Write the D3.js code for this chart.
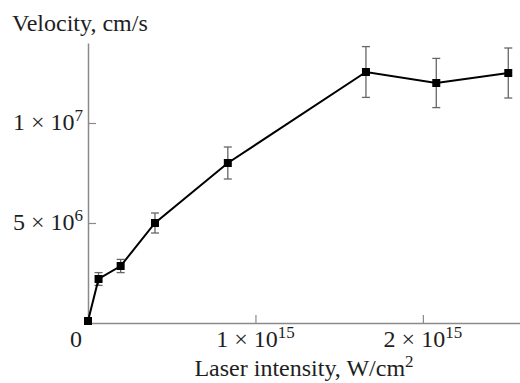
<!DOCTYPE html>
<html>
<head>
<meta charset="utf-8">
<script src="https://cdn.jsdelivr.net/npm/d3@7"></script>
<style>
  body { margin: 0; background: #fff; }
  text { font-family: "Liberation Serif", "DejaVu Serif", serif; fill: #1e1e1e; }
</style>
</head>
<body>
<div id="chart"></div>
<script>
"use strict";

// laser intensity, units of 1e15 W/cm^2
const intensity = [0.0, 0.063, 0.195, 0.40, 0.835, 1.66, 2.08, 2.51];
// velocity, units of 1e6 cm/s
const velocity = [0.1, 2.2, 2.85, 5.0, 8.0, 12.55, 12.0, 12.5];
// error half-widths, units of 1e6 cm/s
const errors = [0, 0.32, 0.33, 0.5, 0.8, 1.27, 1.23, 1.25];

const xTicks = [1, 2];
const yTicks = [5, 10];

const width = 520, height = 383;
const fontSize = 24, supSize = 17;

const svg = d3.select("#chart").append("svg")
    .attr("width", width)
    .attr("height", height);

// scales
const x = d3.scaleLinear().domain([0, 2.58]).range([88, 520]);
const y = d3.scaleLinear().domain([0, 14]).range([323, 43]);

const axisColor = "#8a8a8a";

// x axis (ticks point up, inside the plot)
const xAxis = svg.append("g")
    .attr("transform", "translate(0," + y(0) + ")")
    .call(d3.axisTop(x).tickValues(xTicks).tickSize(8).tickSizeOuter(0).tickFormat(""));
xAxis.select(".domain").attr("stroke", axisColor).attr("stroke-width", 1.5);
xAxis.selectAll(".tick line").attr("stroke", axisColor).attr("stroke-width", 1.2);

// y axis (ticks point right, inside the plot)
const yAxis = svg.append("g")
    .attr("transform", "translate(" + x(0) + ",0)")
    .call(d3.axisRight(y).tickValues(yTicks).tickSize(8).tickSizeOuter(0).tickFormat(""));
yAxis.select(".domain").attr("stroke", axisColor).attr("stroke-width", 1.5);
yAxis.selectAll(".tick line").attr("stroke", axisColor).attr("stroke-width", 1.2);

// tick labels with superscripts
function sciLabel(sel, mant, exp) {
    sel.append("tspan").text(mant + " \u00d7 10");
    sel.append("tspan").attr("dy", -9).attr("font-size", supSize).text(exp);
}

xTicks.forEach(function(t) {
    const lbl = svg.append("text")
        .attr("x", x(t))
        .attr("y", y(0) + 24)
        .attr("text-anchor", "middle")
        .attr("font-size", fontSize);
    sciLabel(lbl, t, 15);
});

svg.append("text")
    .attr("x", 76).attr("y", y(0) + 24)
    .attr("text-anchor", "middle")
    .attr("font-size", fontSize)
    .text("0");

const yLabelInfo = [[5, "5", 6], [10, "1", 7]];
yLabelInfo.forEach(function(d) {
    const lbl = svg.append("text")
        .attr("x", 83)
        .attr("y", y(d[0]) + 7)
        .attr("text-anchor", "end")
        .attr("font-size", fontSize);
    sciLabel(lbl, d[1], d[2]);
});

// axis titles
svg.append("text")
    .attr("x", 12).attr("y", 31)
    .attr("font-size", fontSize)
    .text("Velocity, cm/s");

const xt = svg.append("text")
    .attr("x", 304).attr("y", 376)
    .attr("text-anchor", "middle")
    .attr("font-size", fontSize);
xt.append("tspan").text("Laser intensity, W/cm");
xt.append("tspan").attr("dy", -9).attr("font-size", supSize).text("2");

// data table
const data = intensity.map(function(v, i) {
    return { x: v, y: velocity[i], e: errors[i] };
});

// error bars
const eb = svg.append("g").attr("stroke", "#666").attr("stroke-width", 1.3);
data.filter(function(d) { return d.e > 0; }).forEach(function(d) {
    const cx = x(d.x);
    eb.append("line").attr("x1", cx).attr("x2", cx).attr("y1", y(d.y - d.e)).attr("y2", y(d.y + d.e));
    eb.append("line").attr("x1", cx - 4).attr("x2", cx + 4).attr("y1", y(d.y - d.e)).attr("y2", y(d.y - d.e));
    eb.append("line").attr("x1", cx - 4).attr("x2", cx + 4).attr("y1", y(d.y + d.e)).attr("y2", y(d.y + d.e));
});

// line
const line = d3.line().x(function(d) { return x(d.x); }).y(function(d) { return y(d.y); });
svg.append("path")
    .datum(data)
    .attr("d", line)
    .attr("fill", "none")
    .attr("stroke", "#000")
    .attr("stroke-width", 2);

// square markers
svg.selectAll("rect.pt")
    .data(data)
    .enter()
    .append("rect")
    .attr("class", "pt")
    .attr("x", function(d) { return x(d.x) - 4; })
    .attr("y", function(d) { return y(d.y) - 4; })
    .attr("width", 8)
    .attr("height", 8)
    .attr("fill", "#000");
</script>
</body>
</html>
